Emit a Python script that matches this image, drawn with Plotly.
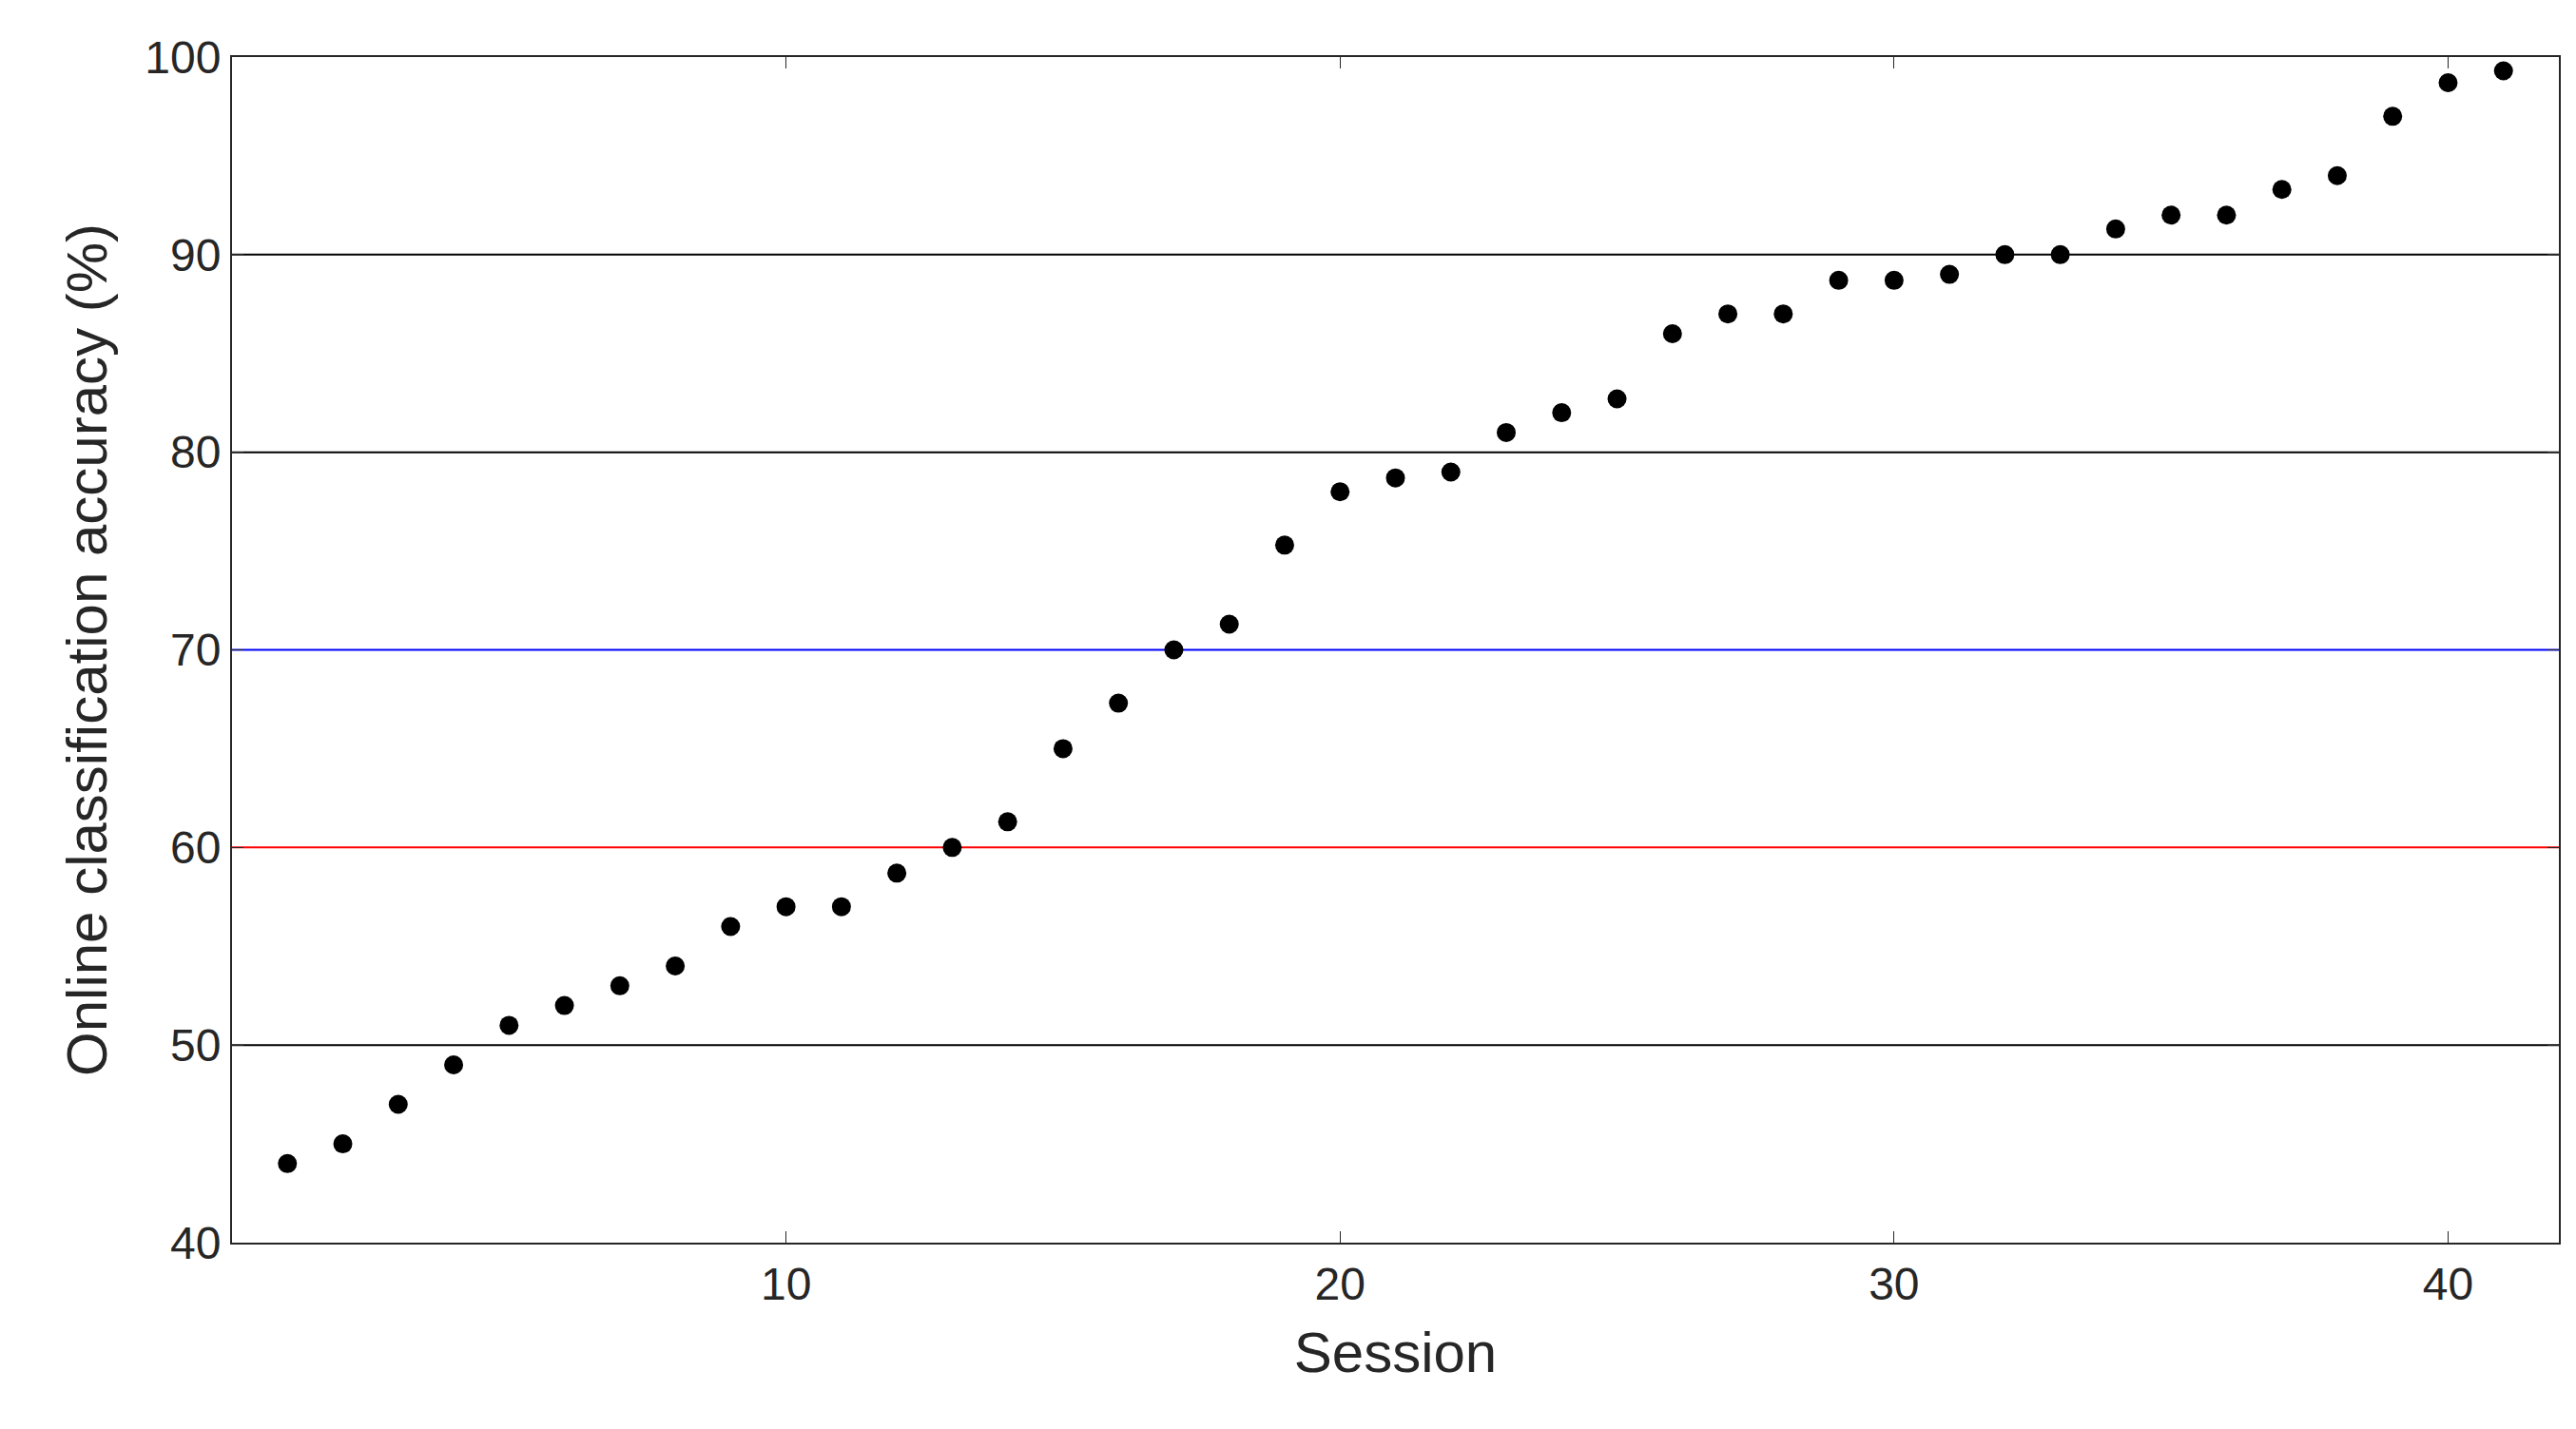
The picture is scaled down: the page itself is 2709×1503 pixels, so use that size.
import plotly.graph_objects as go

sessions = list(range(1, 42))
accuracy = [44, 45, 47, 49, 51, 52, 53, 54, 56, 57, 57, 58.7, 60, 61.3, 65, 67.3, 70, 71.3, 75.3, 78,
            78.7, 79, 81, 82, 82.7, 86, 87, 87, 88.7, 88.7, 89, 90, 90, 91.3, 92, 92, 93.3, 94, 97, 98.7, 99.3]
ref_lines = [(50, "black"), (60, "red"), (70, "blue"), (80, "black"), (90, "black")]

fig = go.Figure(go.Scatter(x=sessions, y=accuracy, mode="markers",
                           marker=dict(color="black", size=20)))
for yv, c in ref_lines:
    fig.add_hline(y=yv, line=dict(color=c, width=2), layer="below")

ax = dict(showgrid=False, zeroline=False, showline=True, linecolor="#262626", linewidth=2,
          mirror="ticks", ticks="inside", ticklen=12, tickcolor="#262626",
          tickfont=dict(size=48, color="#262626"))
fig.update_xaxes(range=[0, 42], tickvals=[10, 20, 30, 40], **ax,
                 title=dict(text="Session", font=dict(size=60, color="#262626"), standoff=25))
fig.update_yaxes(range=[40, 100], tickvals=[40, 50, 60, 70, 80, 90, 100], **ax,
                 title=dict(text="Online classification accuracy (%)", font=dict(size=60, color="#262626"), standoff=20))
fig.update_layout(width=2709, height=1503, plot_bgcolor="white", paper_bgcolor="white",
                  font=dict(family="Liberation Sans, Arial"), showlegend=False,
                  margin=dict(l=236, r=26, t=52, b=204))
fig.write_html("out.html")
